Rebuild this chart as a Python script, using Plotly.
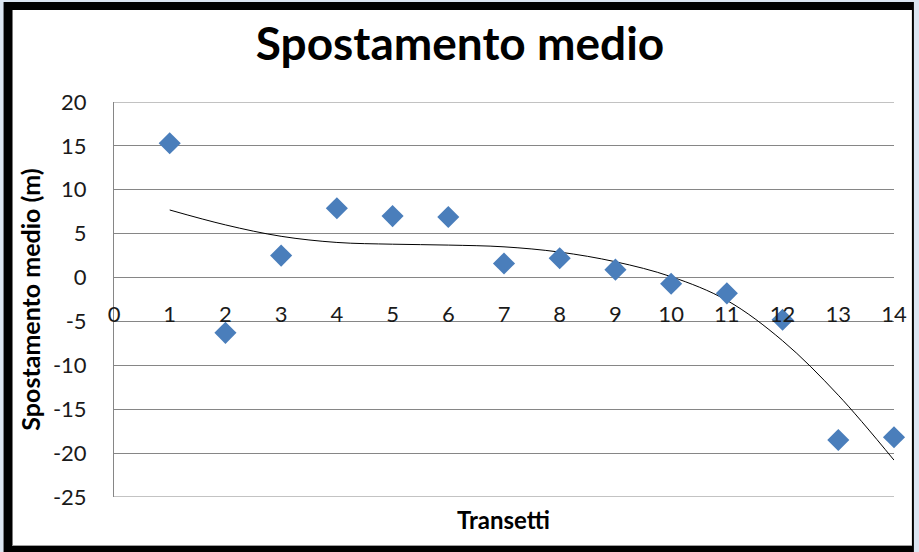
import plotly.graph_objects as go

# Data
transetti = [1, 2, 3, 4, 5, 6, 7, 8, 9, 10, 11, 12, 13, 14]
spostamento = [15.3, -6.3, 2.5, 7.9, 7.0, 6.9, 1.6, 2.2, 0.9, -0.7, -1.8, -4.8, -18.5, -18.2]
trend_x = [1, 2, 3, 4, 5, 6, 7, 8, 9, 10, 11, 12, 13, 14]
trend_y = [7.7, 6.0, 4.7, 4.0, 3.8, 3.7, 3.5, 2.9, 1.8, 0.1, -2.6, -7.2, -13.4, -20.8]
x_ticks = list(range(0, 15))
x_labels = [str(v) for v in x_ticks]
y_ticks = [20, 15, 10, 5, 0, -5, -10, -15, -20, -25]
y_labels = ["20", "15", "10", "5", "0", "-5", "-10", "-15", "-20", "-25"]

W, H = 919, 552
L, R, T, B = 114, 21, 102, 55
PW, PH = W - L - R, H - T - B

def px(xp):
    return (xp - L) / PW

def py(yp):
    return (H - B - yp) / PH

fig = go.Figure()
fig.add_trace(go.Scatter(
    x=trend_x, y=trend_y, mode="lines",
    line=dict(color="#000000", width=1, shape="spline", smoothing=1.0),
    hoverinfo="skip", showlegend=False))
fig.add_trace(go.Scatter(
    x=transetti, y=spostamento, mode="markers", cliponaxis=False,
    marker=dict(symbol="diamond", size=17, color="#4a7ebb", line=dict(width=0)),
    showlegend=False))

shapes = [
    dict(type="rect", xref="paper", yref="paper", x0=px(3), x1=px(918), y0=py(552), y1=py(2),
         fillcolor="#000000", line=dict(width=0), layer="below"),
    dict(type="rect", xref="paper", yref="paper", x0=px(12), x1=px(916), y0=py(546), y1=py(10),
         fillcolor="#ffffff", line=dict(width=0), layer="below"),
    dict(type="line", xref="paper", yref="paper", x0=px(12), x1=px(916), y0=py(545.5), y1=py(545.5),
         line=dict(color="#a0a0a0", width=1), layer="below"),
]
# gridlines at the two range ends (top and bottom of the value axis)
for v in (y_ticks[0], y_ticks[-1]):
    shapes.append(dict(type="line", xref="paper", yref="y", x0=0, x1=1, y0=v, y1=v,
                       line=dict(color="#868686", width=1), layer="below"))

font = "Lato, 'Open Sans', sans-serif"
fig.update_layout(
    width=W, height=H,
    margin=dict(l=L, r=R, t=T, b=B),
    paper_bgcolor="#dbe5f1",
    plot_bgcolor="rgba(0,0,0,0)",
    font=dict(family=font, color="#1a1a1a"),
    title=dict(text="<b>Spostamento medio</b>", xref="container", yref="container",
               x=460 / W, xanchor="center",
               y=1 - 44 / H, yanchor="middle", font=dict(size=46, color="#000000", family=font)),
    shapes=shapes,
    annotations=[dict(text="<b>Transetti</b>", xref="paper", yref="paper",
                      x=px(505), y=py(519), xanchor="center", yanchor="middle",
                      showarrow=False, font=dict(size=24, color="#000000", family=font))],
    xaxis=dict(range=[0, 14], tickmode="array", tickvals=x_ticks, ticktext=x_labels,
               showgrid=False, zeroline=False, showline=False, ticks="",
               anchor="free", position=py(299),
               tickfont=dict(size=22, color="#1a1a1a")),
    yaxis=dict(range=[-25, 20], tickmode="array", tickvals=y_ticks, ticktext=y_labels,
               showgrid=True, gridcolor="#868686", gridwidth=1,
               zeroline=True, zerolinecolor="#868686", zerolinewidth=1,
               showline=True, linecolor="#868686", linewidth=1,
               ticks="", ticklabelstandoff=22,
               tickfont=dict(size=22, color="#1a1a1a"),
               title=dict(text="<b>Spostamento medio (m)</b>", standoff=5,
                          font=dict(size=25, color="#000000"))),
)

fig.write_html("out.html", config={"displayModeBar": False},
               post_script="document.body.style.margin='0';document.body.style.padding='0';")
